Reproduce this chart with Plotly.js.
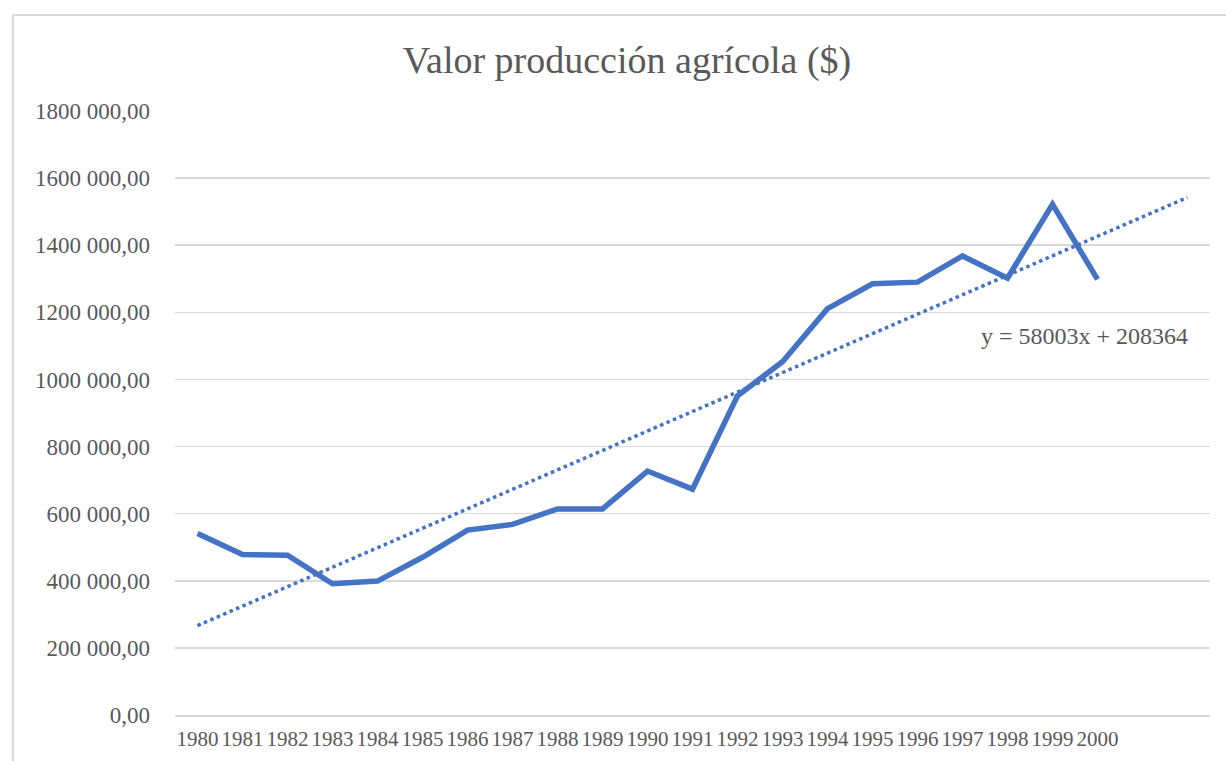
<!DOCTYPE html>
<html>
<head>
<meta charset="utf-8">
<script src="https://cdn.plot.ly/plotly-3.0.1.min.js"></script>
<style>
  html, body { margin: 0; padding: 0; background: #fff; overflow: hidden; }
  #chart { width: 1226px; height: 761px; }
  #frame { position: absolute; left: 12px; top: 14px; width: 1400px; height: 900px;
           border: 2px solid #d9d9d9; pointer-events: none; box-sizing: border-box; }
</style>
</head>
<body>
<div id="chart"></div>
<div id="frame"></div>
<script>
// Data
const years = [1980,1981,1982,1983,1984,1985,1986,1987,1988,1989,1990,1991,1992,1993,1994,1995,1996,1997,1998,1999,2000];
const values = [541000,478000,476000,391000,399000,470000,551000,568000,614000,614000,727000,673000,951000,1053000,1211000,1285000,1290000,1368000,1302000,1522000,1298000];
const yTicks = [0,200000,400000,600000,800000,1000000,1200000,1400000,1600000,1800000];
const yTickLabels = ["0,00","200 000,00","400 000,00","600 000,00","800 000,00","1000 000,00","1200 000,00","1400 000,00","1600 000,00","1800 000,00"];
// Trendline coefficients as shown in the chart label (x = 1 for 1980), forecast 2 periods forward
const trendSlope = 58003;
const trendIntercept = 208364;
const trendForward = 2;
const trendLabel = "y = 58003x + 208364";

const trendX = [years[0], years[years.length-1] + trendForward];
const trendY = trendX.map(x => trendSlope * (x - years[0] + 1) + trendIntercept);

const blue = '#4472C4';
const grey = '#595959';

const traces = [
  { x: years, y: values, type: 'scatter', mode: 'lines',
    line: { color: blue, width: 5.5, shape: 'linear' }, hoverinfo: 'skip', showlegend: false },
  { x: trendX, y: trendY, type: 'scatter', mode: 'lines',
    line: { color: blue, width: 3.5, dash: 'dot' }, hoverinfo: 'skip', showlegend: false }
];

const layout = {
  width: 1226, height: 761,
  margin: { l: 175, r: 16, t: 111, b: 46 },
  paper_bgcolor: '#fff', plot_bgcolor: '#fff',
  font: { family: '"Liberation Serif", "Times New Roman", serif', color: grey },
  title: { text: 'Valor producción agrícola ($)', font: { size: 38, color: grey },
           xref: 'container', x: 627/1226, xanchor: 'center',
           yref: 'container', y: 1 - 60/761, yanchor: 'middle' },
  xaxis: {
    range: [years[0] - 0.5, years[years.length-1] + trendForward + 0.5],
    tickvals: years, ticktext: years.map(String),
    showgrid: false, zeroline: false,
    showline: true, linecolor: '#d9d9d9', linewidth: 1.5,
    ticks: '', tickangle: 0, tickfont: { size: 21, color: grey }, ticklabelstandoff: 4, fixedrange: true
  },
  yaxis: {
    range: [0, 1800000],
    tickvals: yTicks, ticktext: yTickLabels,
    showgrid: true, gridcolor: '#d9d9d9', gridwidth: 1.5,
    zeroline: false, showline: false, ticks: '',
    tickfont: { size: 23, color: grey }, ticklabelstandoff: 24, fixedrange: true
  },
  annotations: [{
    text: trendLabel, xref: 'paper', yref: 'paper',
    x: (1190-175)/1035, xanchor: 'right', y: (715-336)/604, yanchor: 'middle',
    showarrow: false, font: { size: 24, color: grey }
  }],
  showlegend: false
};

Plotly.newPlot('chart', traces, layout, { displayModeBar: false, staticPlot: true });
</script>
</body>
</html>
